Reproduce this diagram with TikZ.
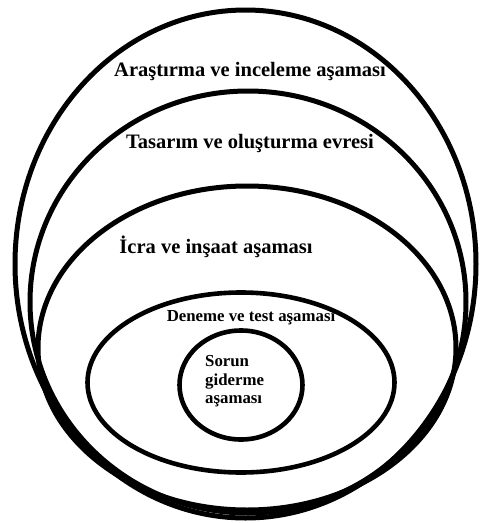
\documentclass[tikz,border=0pt]{standalone}
\usepackage{fontspec}
\setmainfont{Liberation Serif}
\begin{document}
\begin{tikzpicture}[x=1pt,y=-1pt,
  ring/.style={draw=black,line width=5pt},
  thinring/.style={draw=black,line width=4.6pt},
  big/.style={font=\fontsize{20.5}{24}\selectfont\bfseries,anchor=base,inner sep=0pt},
  small/.style={font=\fontsize{16.8}{19}\selectfont\bfseries,anchor=base,inner sep=0pt}]
\useasboundingbox (0,0) rectangle (480,523);
\draw[ring] (245.5,264) ellipse [x radius=230.5,y radius=254];
\draw[ring] (248,302) ellipse [x radius=218,y radius=211];
\draw[ring] (247,348) ellipse [x radius=209,y radius=162];
\draw[thinring] (241,382.5) ellipse [x radius=153.5,y radius=90];
\draw[thinring] (241,385) ellipse [x radius=61.5,y radius=54.5];
\node[big] (t1) at (250,76) {Araştırma ve inceleme aşaması};
\node[big] (t2) at (250,148) {Tasarım ve oluşturma evresi};
\node[big] (t3) at (216,253) {İcra ve inşaat aşaması};
\node[small] (t4) at (251,321) {Deneme ve test aşaması};
\node[small,anchor=base west] (t5a) at (205,366) {Sorun};
\node[small,anchor=base west] (t5b) at (205,385) {giderme};
\node[small,anchor=base west] (t5c) at (205,403) {aşaması};
\end{tikzpicture}
\end{document}
